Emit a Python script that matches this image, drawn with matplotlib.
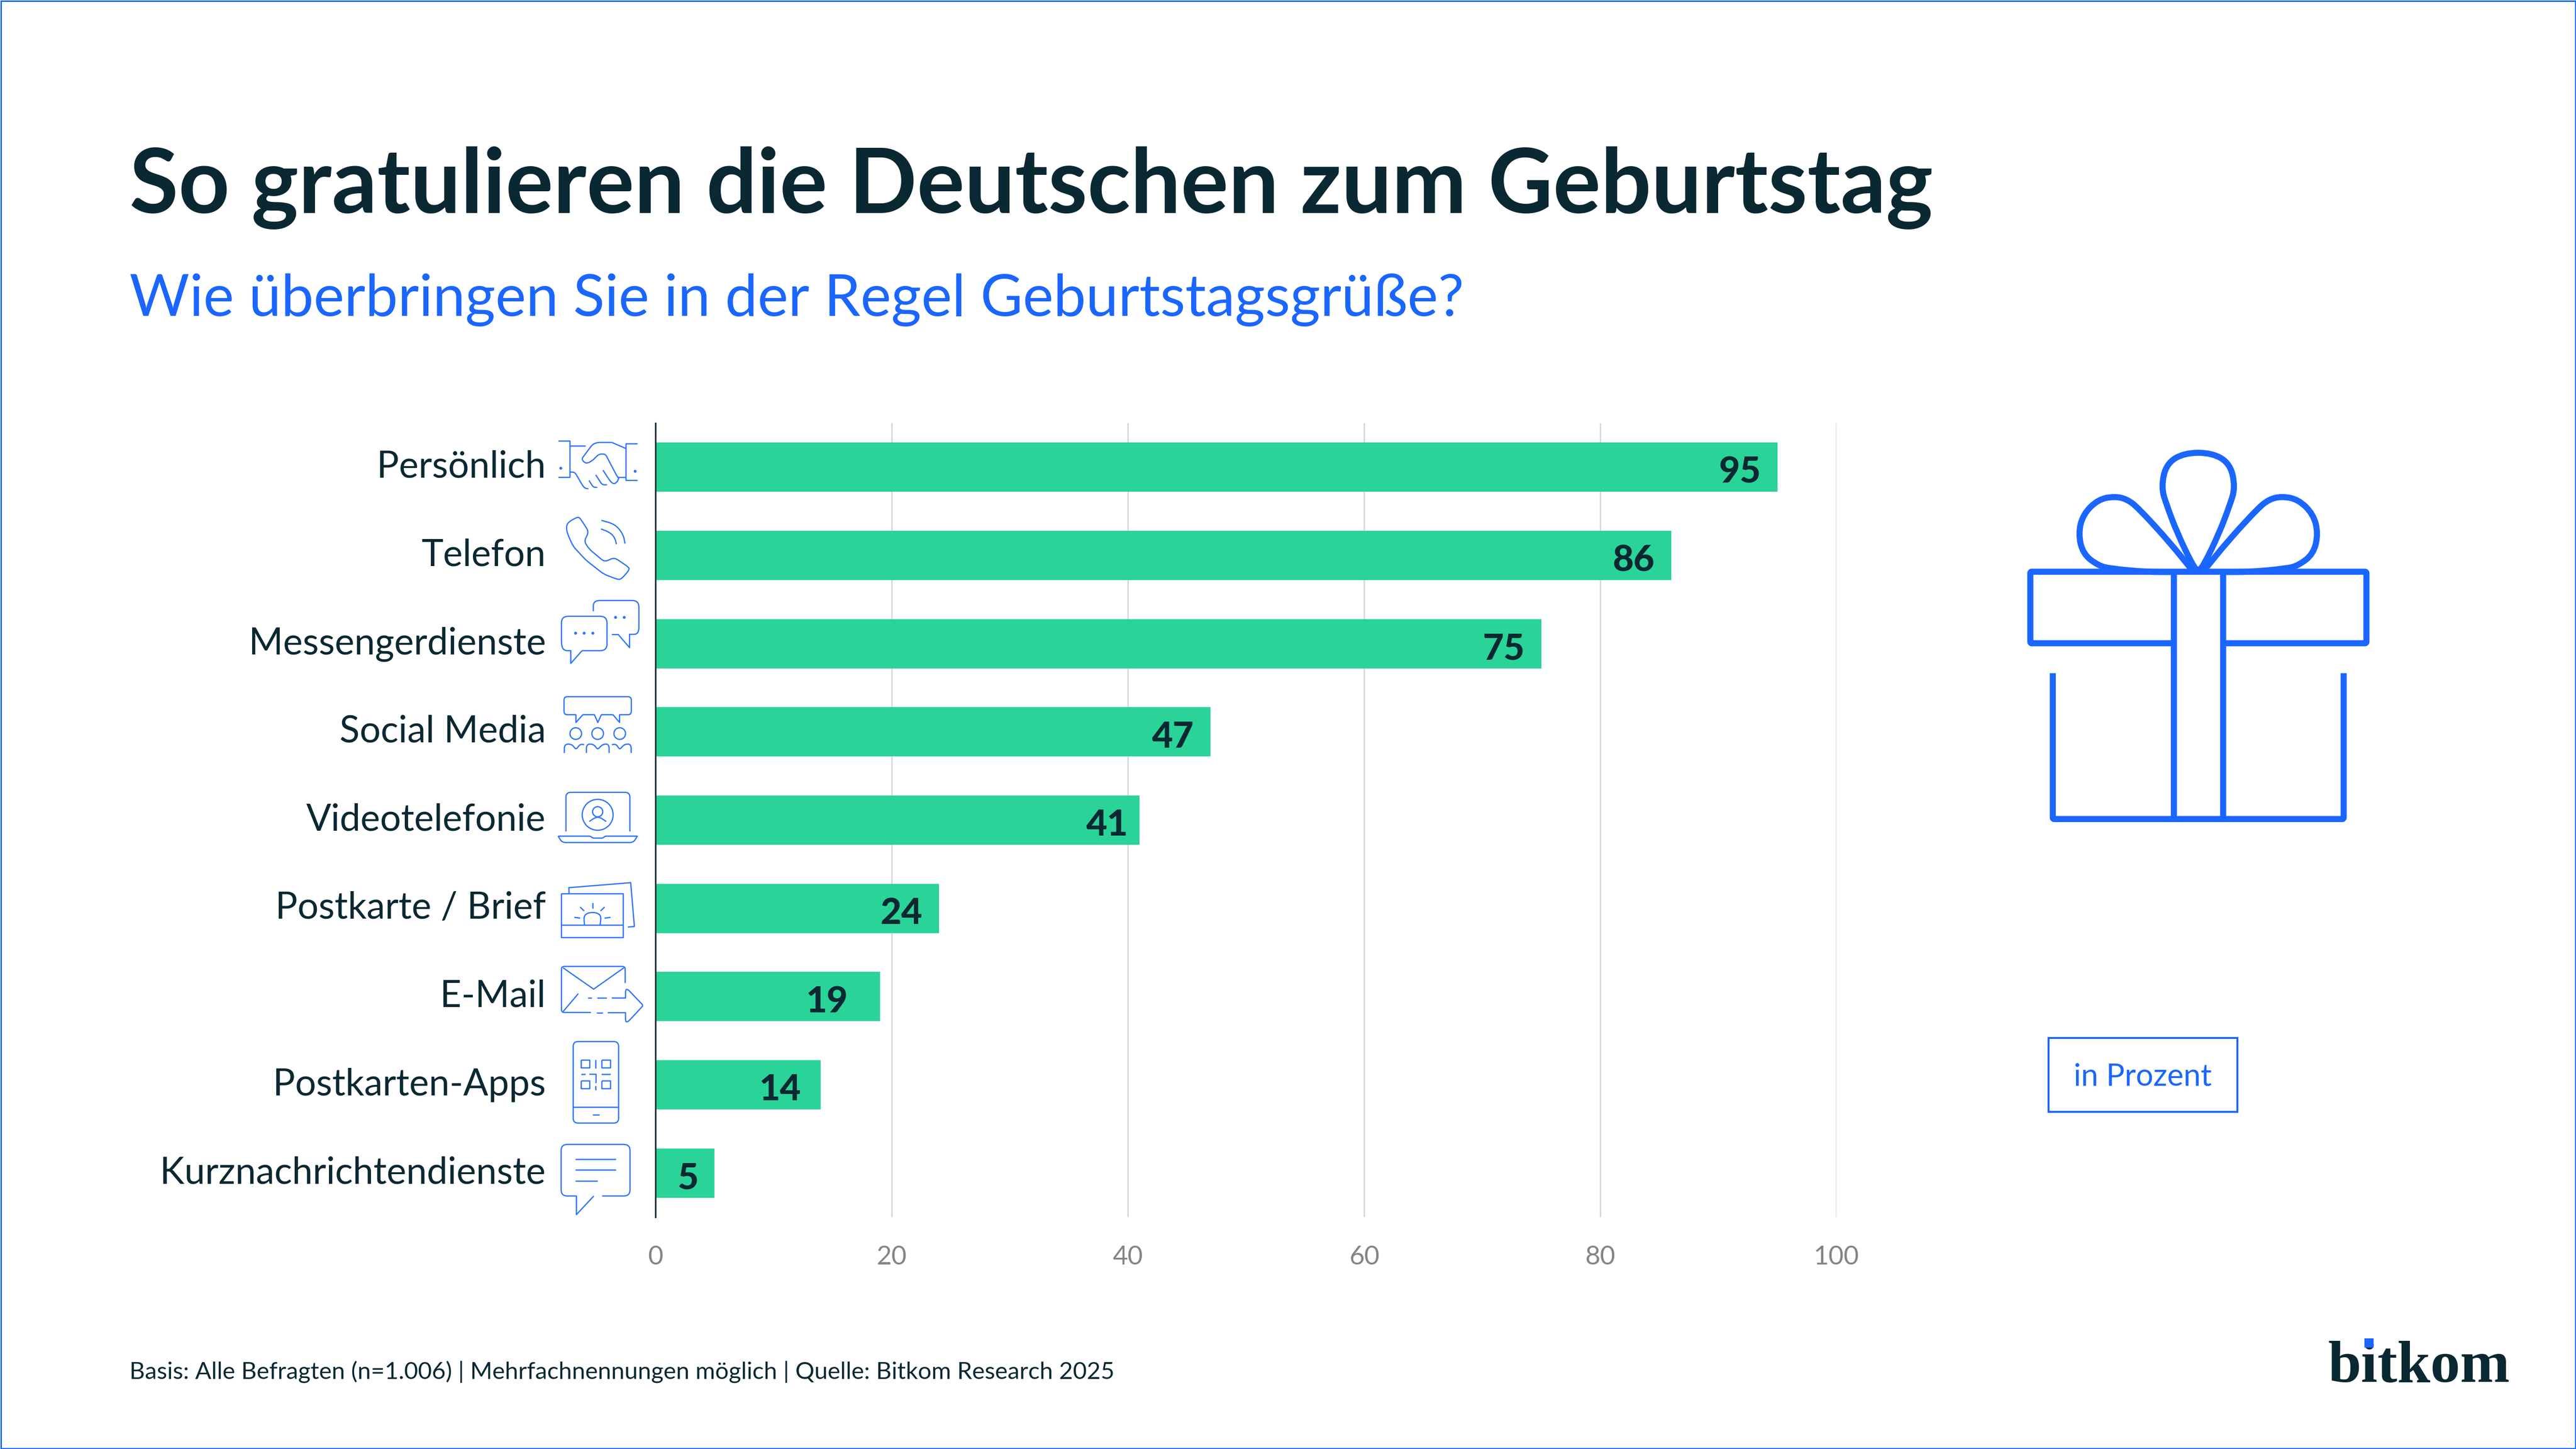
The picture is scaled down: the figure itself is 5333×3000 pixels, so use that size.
#!/usr/bin/env python3
"""Bitkom chart: how Germans pass on birthday greetings."""

import matplotlib
matplotlib.use("Agg")
import matplotlib.pyplot as plt
import numpy as np
from matplotlib.patches import Circle, PathPatch, Rectangle
from matplotlib.path import Path
from matplotlib.transforms import ScaledTranslation

W, H = 5333, 3000
DPI = 300

CLR_BAR = "#2AD398"
CLR_DARK = "#0A2832"
CLR_BLUE = "#1A66FF"
CLR_ICON = "#2E74FF"
CLR_GRID = "#D8D8D8"
CLR_TICK = "#858585"

categories = [
    "Persönlich",
    "Telefon",
    "Messengerdienste",
    "Social Media",
    "Videotelefonie",
    "Postkarte / Brief",
    "E-Mail",
    "Postkarten-Apps",
    "Kurznachrichtendienste",
]
values = [95, 86, 75, 47, 41, 24, 19, 14, 5]
x_ticks = [0, 20, 40, 60, 80, 100]

TITLE = "So gratulieren die Deutschen zum Geburtstag"
SUBTITLE = "Wie überbringen Sie in der Regel Geburtstagsgrüße?"
FOOTER = "Basis: Alle Befragten (n=1.006) | Mehrfachnennungen möglich | Quelle: Bitkom Research 2025"
UNIT = "in Prozent"

# the reference's figures are not all set the same distance from the bar end
LABEL_NUDGE_PX = {41: 10, 19: -32, 14: -7}

plt.rcParams["font.family"] = ["Lato", "DejaVu Sans"]


def px(n):
    # pixels of the final image to points
    return n * 72 / DPI


def rounded_path(pts, r=0, closed=False):
    """Polyline whose corners are rounded with radius r (scalar or per vertex)."""
    pts = [np.array(p, dtype=float) for p in pts]
    n = len(pts)
    rs = [r] * n if np.isscalar(r) else list(r)
    verts, codes = [], []

    def corner(i):
        p = pts[i]
        prev, nxt = pts[(i - 1) % n], pts[(i + 1) % n]
        if rs[i] <= 0:
            return p, p, p
        d1, d2 = np.linalg.norm(prev - p), np.linalg.norm(nxt - p)
        a = p + (prev - p) * min(rs[i] / d1, 0.5)
        b = p + (nxt - p) * min(rs[i] / d2, 0.5)
        return a, p, b

    idx = range(n) if closed else range(1, n - 1)
    if not closed:
        verts.append(pts[0])
        codes.append(Path.MOVETO)
    first = True
    for i in idx:
        a, p, b = corner(i)
        verts.append(a)
        codes.append(Path.MOVETO if (closed and first) else Path.LINETO)
        first = False
        verts += [p, b]
        codes += [Path.CURVE3, Path.CURVE3]
    if closed:
        verts.append(verts[0])
        codes.append(Path.LINETO)
    else:
        verts.append(pts[-1])
        codes.append(Path.LINETO)
    return Path(np.array(verts), codes)


class Sketch:
    """Draws line icons given in a crop's own coordinates."""

    def __init__(self, ax, x0, y0, sx, sy, lw, color):
        self.ax, self.x0, self.y0, self.sx, self.sy = ax, x0, y0, sx, sy
        self.lw, self.color = lw, color

    def conv(self, pts):
        return [(self.x0 + x / self.sx, self.y0 + y / self.sy) for x, y in pts]

    def line(self, pts, r=0, closed=False):
        path = rounded_path(self.conv(pts), r, closed)
        self.ax.add_patch(PathPatch(path, fill=False, edgecolor=self.color,
                                    lw=px(self.lw), capstyle="butt", joinstyle="round"))

    def rect(self, x1, y1, x2, y2, r=0):
        self.line([(x1, y1), (x2, y1), (x2, y2), (x1, y2)], r, closed=True)

    def circle(self, x, y, r):
        (cx, cy), = self.conv([(x, y)])
        self.ax.add_patch(Circle((cx, cy), r, fill=False, edgecolor=self.color, lw=px(self.lw)))

    def dot(self, x, y, r=3):
        (cx, cy), = self.conv([(x, y)])
        self.ax.add_patch(Circle((cx, cy), r, color=self.color, lw=0))


def draw_icons(ov):
    s = Sketch(ov, 1000, 850, 3, 1.742, 2.6, CLR_ICON)
    # handshake
    s.line([(468, 110), (540, 110), (540, 241), (468, 241)])
    s.line([(960, 120), (888, 120), (888, 252), (960, 252)])
    s.dot(483, 208)
    s.dot(945, 219)
    s.line([(540, 127), (636, 127)])
    s.line([(540, 222), (570, 222), (620, 272), (635, 281), (655, 282)], 6)
    s.line([(800, 115), (888, 137)])
    s.line([(800, 115), (710, 115), (680, 122), (612, 175), (630, 188), (650, 190),
            (680, 180), (720, 157), (760, 157), (835, 240), (845, 243), (830, 260),
            (810, 265), (790, 255), (745, 215)], 5)
    s.line([(835, 240), (888, 240)])
    s.line([(700, 232), (740, 268), (770, 268)], 6)
    s.line([(658, 252), (685, 277), (710, 277)], 6)

    # phone
    s.line([(516, 420), (530, 402), (590, 383), (605, 390), (657, 437), (628, 472),
            (660, 500), (755, 546), (815, 530), (905, 565), (908, 575), (860, 607),
            (840, 610), (750, 590), (640, 540), (560, 490), (525, 445)], 8, closed=True)
    s.line([(735, 396), (820, 410), (870, 445), (882, 480)], 30)
    s.line([(733, 427), (790, 440), (820, 460), (828, 482)], 20)

    # messenger bubbles
    s.line([(615, 866), (545, 866 + 46), (545, 866), (505, 866), (487, 850), (487, 742),
            (770, 742), (770, 866)], [0, 0, 0, 12, 12, 14, 14, 14], closed=True)
    for x in (575, 628, 682):
        s.dot(x, 803)
    s.line([(685, 724), (685, 685), (968, 685), (968, 807), (910, 807), (910, 855),
            (840, 808), (800, 808)], [0, 14, 14, 14, 0, 0, 0, 0])
    for x in (823, 877):
        s.dot(x, 746)

    # social media
    s.line([(503, 1032), (921, 1032), (921, 1097), (848, 1097), (848, 1125), (807, 1097),
            (735, 1097), (713, 1125), (692, 1097), (620, 1097), (577, 1125), (577, 1097),
            (503, 1097)], [7, 7, 7, 0, 0, 0, 0, 0, 0, 0, 0, 0, 7], closed=True)
    for x in (576, 712, 849):
        s.circle(x, 1165, 12)
    s.line([(505, 1235), (505, 1203), (550, 1203), (577, 1222), (605, 1203), (628, 1205)], [0, 14, 6, 3, 4, 0])
    s.line([(642, 1235), (642, 1203), (685, 1203), (712, 1222), (745, 1203), (783, 1203), (783, 1235)],
           [0, 14, 6, 3, 6, 14, 0])
    s.line([(800, 1205), (825, 1203), (849, 1222), (880, 1203), (920, 1203), (920, 1235)], [0, 4, 3, 6, 14, 0])

    # video call
    s.line([(515, 1518), (515, 1377), (912, 1377), (912, 1518)], 10)
    s.line([(467, 1535), (668, 1535), (680, 1542), (745, 1542), (757, 1535), (958, 1535),
            (935, 1558), (490, 1558)], [0, 3, 3, 3, 3, 0, 8, 8], closed=True)
    s.circle(712, 1458, 32)
    s.circle(712, 1447, 10.5)
    s.line([(660, 1482), (712, 1462), (765, 1482)], 30)

    s = Sketch(ov, 1000, 1750, 3, 1.742, 2.6, CLR_ICON)
    # postcard
    s.rect(487, 175, 871, 333)
    s.line([(487, 287), (871, 287)])
    s.line([(535, 175), (533, 153), (917, 135), (940, 293), (900, 295)])
    s.line([(630, 287), (625, 250), (680, 240), (735, 250), (727, 287)], 14)
    s.line([(680, 208), (680, 228)])
    s.line([(603, 223), (628, 237)])
    s.line([(755, 223), (730, 237)])
    s.line([(567, 260), (603, 263)])
    s.line([(792, 260), (755, 263)])

    # e-mail
    s.line([(883, 497), (883, 437), (487, 437), (487, 603), (670, 603)], [0, 6, 6, 6, 0])
    s.line([(497, 442), (687, 519), (875, 442)])
    s.line([(497, 600), (592, 535)])
    s.line([(652, 551), (675, 551)])
    s.line([(708, 551), (768, 551)])
    s.line([(800, 551), (885, 551), (885, 520), (900, 520), (995, 578), (900, 637),
            (885, 637), (885, 604), (775, 604)], [0, 0, 6, 5, 4, 5, 6, 0, 0])
    s.line([(705, 604), (743, 604)])

    # phone with qr code
    s.rect(560, 708, 842, 1002, 10)
    s.line([(560, 945), (842, 945)])
    s.line([(680, 972), (722, 972)])
    s.rect(610, 775, 663, 803)
    s.rect(738, 775, 792, 803)
    s.rect(610, 850, 663, 878)
    s.rect(738, 850, 792, 878)
    s.line([(700, 773), (700, 805)])
    s.line([(608, 826), (635, 826)])
    s.line([(660, 826), (702, 826), (702, 858)])
    s.line([(735, 826), (792, 826)])
    s.line([(700, 868), (700, 883)])

    # chat bubble
    s.line([(688, 1265), (580, 1332), (580, 1265), (485, 1265), (485, 1079), (913, 1079),
            (913, 1265), (740, 1265)], [0, 0, 0, 13, 13, 13, 13, 0])
    s.line([(573, 1132), (825, 1132)])
    s.line([(573, 1171), (825, 1171)])
    s.line([(573, 1210), (712, 1210)])


def draw_gift(ov):
    s = Sketch(ov, 4100, 880, 1.742, 1.742, 12.6, CLR_BLUE)
    s.line([(696, 787), (180, 787), (180, 529), (1392, 529), (1392, 787), (875, 787)], 3)
    s.line([(696, 529), (696, 1421)])
    s.line([(875, 529), (875, 1421)])
    s.line([(261, 895), (261, 1421), (1310, 1421), (1310, 895)], 3)

    s.line([(785, 528), (765, 505), (710, 390), (672, 290), (652, 225), (670, 140), (735, 100),
            (836, 100), (901, 140), (919, 225), (899, 290), (861, 390), (806, 505)], 40, closed=True)
    left = [(765, 525), (680, 420), (570, 300), (530, 268), (485, 257), (425, 268), (370, 322),
            (353, 392), (370, 465), (425, 507), (470, 518), (600, 530), (700, 530)]
    s.line(left, 40)
    s.line([(1571 - x, y) for x, y in left], 40)


def main():
    fig = plt.figure(figsize=(W / DPI, H / DPI), dpi=DPI, facecolor="white")

    # full-figure layer in image pixels, for layout and drawn icons
    ov = fig.add_axes([0, 0, 1, 1], zorder=0)
    ov.set_xlim(0, W)
    ov.set_ylim(H, 0)
    ov.axis("off")

    ov.add_patch(Rectangle((1.5, 1.5), W - 3, H - 3, fill=False, edgecolor=CLR_BLUE, lw=px(3)))
    ov.text(268, 441, TITLE, fontsize=44.35, fontweight="bold", color=CLR_DARK, va="baseline")
    ov.text(268, 654, SUBTITLE, fontsize=28.8, color=CLR_BLUE, va="baseline")
    ov.text(268, 2856, FOOTER, fontsize=11.86, color=CLR_DARK, va="baseline")

    ov.add_patch(Rectangle((4241, 2149), 391, 153, fill=False, edgecolor=CLR_BLUE, lw=px(4)))
    ov.text(4436, 2230, UNIT, fontsize=15.3, color=CLR_BLUE, ha="center", va="center")

    ov.text(4819, 2860, "bitkom", fontsize=29.6, fontweight="bold", family="Liberation Serif",
            color=CLR_DARK, va="baseline")
    ov.add_patch(Rectangle((4895, 2771), 19, 19, color=CLR_BLUE, lw=0, zorder=5))

    draw_icons(ov)
    draw_gift(ov)

    # the chart itself
    ax = fig.add_axes([1357 / W, 1 - 2520 / H, (3802 - 1357) / W, (2520 - 876) / H], zorder=1)
    ax.patch.set_alpha(0)
    y = np.arange(len(categories))
    ax.barh(y, values, height=0.558, color=CLR_BAR, zorder=2)
    ax.set_xlim(0, 100)
    ax.set_ylim(8.5, -0.5)
    ax.set_yticks(y, categories, fontsize=18.4, color=CLR_DARK)
    ax.set_xticks(x_ticks)
    ax.tick_params(axis="both", length=0)
    ax.tick_params(axis="y", pad=px(227))
    ax.tick_params(axis="x", pad=px(58), labelsize=13, labelcolor=CLR_TICK)
    lift = ScaledTranslation(0, 7 / DPI, fig.dpi_scale_trans)
    for lbl in ax.get_yticklabels():
        lbl.set_transform(lbl.get_transform() + lift)
    ax.grid(axis="x", color=CLR_GRID, lw=px(3), zorder=1)
    ax.set_axisbelow(True)
    for name, spine in ax.spines.items():
        spine.set_visible(name == "left")
    ax.spines["left"].set_color(CLR_DARK)
    ax.spines["left"].set_linewidth(px(3))
    ax.spines["left"].set_zorder(3)

    for i, v in enumerate(values):
        dx = -34 + LABEL_NUDGE_PX.get(v, 0)
        ax.annotate(str(v), (v, i), xytext=(px(dx), -px(11)), textcoords="offset points",
                    ha="right", va="center", fontsize=18, fontweight="black", color=CLR_DARK, zorder=4)

    fig.savefig("out.png", dpi=DPI, facecolor="white")
    plt.close(fig)


if __name__ == "__main__":
    main()
